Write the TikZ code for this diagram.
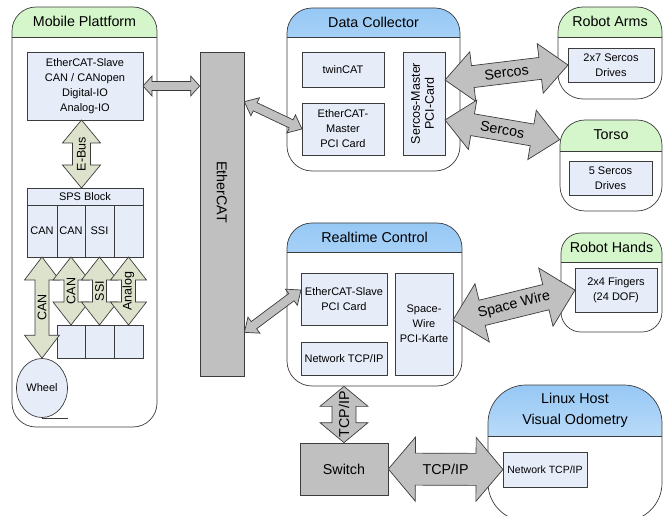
\documentclass[tikz,border=0pt]{standalone}
\usepackage{fontspec}
\setmainfont{Liberation Sans}
\usetikzlibrary{calc,shapes.geometric,positioning}

\definecolor{boxblue}{RGB}{230,236,248}
\definecolor{headgreen}{RGB}{212,246,202}
\definecolor{headblue}{RGB}{150,200,245}
\definecolor{fatgray}{RGB}{192,192,192}
\definecolor{busgreen}{RGB}{221,226,204}
\definecolor{edgegray}{RGB}{60,60,60}

\newcommand{\bigfont}{\fontsize{14.3}{17}\selectfont}
\newcommand{\boxfont}{\fontsize{11}{15}\selectfont}
\newcommand{\busfont}{\fontsize{12.5}{14}\selectfont}

% double block arrow: [style]{from}{to}{shaft half}{head half}{head length}
\newcommand{\fatarrow}[6][fat body]{%
  \coordinate (fatA) at ($(#2)!#6!(#3)$);
  \coordinate (fatB) at ($(#3)!#6!(#2)$);
  \draw[#1] (#2) -- ($(fatA)!#5!90:(#3)$) -- ($(fatA)!#4!90:(#3)$)
    -- ($(fatB)!#4!90:(#3)$) -- ($(fatB)!#5!90:(#3)$) -- (#3)
    -- ($(fatB)!#5!-90:(#3)$) -- ($(fatB)!#4!-90:(#3)$)
    -- ($(fatA)!#4!-90:(#3)$) -- ($(fatA)!#5!-90:(#3)$) -- cycle;}

\begin{document}
\begin{tikzpicture}[x=1pt,y=-1pt,
    zone/.style={draw=edgegray,fill=white,line width=0.7pt,rounded corners=22pt,inner sep=0pt},
    green head/.style={zone,
      path picture={
        \fill[headgreen,sharp corners] (path picture bounding box.north west) rectangle ([yshift=-#1]path picture bounding box.north east);
        \draw[edgegray,line width=0.7pt,sharp corners] ([yshift=-#1]path picture bounding box.north west) -- ([yshift=-#1]path picture bounding box.north east);}},
    green head/.default=30pt,
    blue head/.style={zone,
      path picture={
        \shade[top color=headblue,bottom color=headblue!12,sharp corners] (path picture bounding box.north west) rectangle ([yshift=-#1]path picture bounding box.north east);
        \draw[edgegray,line width=0.7pt,sharp corners] ([yshift=-#1]path picture bounding box.north west) -- ([yshift=-#1]path picture bounding box.north east);}},
    blue head/.default=30pt,
    zone title/.style={font=\bigfont,align=center,inner sep=0pt},
    module box/.style={draw=edgegray,fill=boxblue,line width=0.7pt,inner sep=1pt,outer sep=0pt,align=center,font=\boxfont},
    gray box/.style={draw=edgegray,fill=fatgray,line width=0.7pt},
    fat body/.style={draw=edgegray,fill=fatgray,line width=0.7pt,line join=miter},
    bus body/.style={fat body,fill=busgreen},
    fat label/.style={font=\bigfont,inner sep=0pt},
    bus label/.style={font=\busfont,inner sep=0pt}]

  \useasboundingbox (0,0) rectangle (665,516);

  % Mobile Plattform
  \node[green head, minimum width=145pt, minimum height=420pt, rounded corners=24pt] (mp) at (84.5,217) {};
  \node[zone title] (mptitle) at ([yshift=-15pt]mp.north) {Mobile Plattform};
  \node[module box, minimum width=116pt, minimum height=68pt] (mpslave) at (85,86) {EtherCAT-Slave\\CAN / CANopen\\Digital-IO\\Analog-IO};
  \node[module box, minimum width=116pt, minimum height=17pt, inner sep=0pt] (sps) at (85,196.5) {SPS Block};
  \node[module box, minimum width=30pt, minimum height=52pt] (sps1) at (42,231) {CAN};
  \node[module box, minimum width=28pt, minimum height=52pt, right=0pt of sps1] (sps2) {CAN};
  \node[module box, minimum width=29pt, minimum height=52pt, right=0pt of sps2] (sps3) {SSI};
  \node[module box, minimum width=29pt, minimum height=52pt, right=0pt of sps3] (sps4) {};
  \node[module box, minimum width=28pt, minimum height=33pt] (mod1) at (71,341.5) {};
  \node[module box, minimum width=29pt, minimum height=33pt, right=0pt of mod1] (mod2) {};
  \node[module box, minimum width=29pt, minimum height=33pt, right=0pt of mod2] (mod3) {};
  \node[ellipse, draw=edgegray, fill=boxblue, line width=0.7pt, minimum width=51pt, minimum height=59pt, inner sep=0pt, font=\boxfont] (wheel) at (42,388) {Wheel};
  \draw[edgegray, line width=0.7pt] (wheel.south) -- ++(26,0);

  % EtherCAT bus
  \node[gray box, minimum width=44pt, minimum height=324pt] (ethercat) at (222,214) {};
  \node[fat label, rotate=-90] (ethercatlbl) at ([yshift=22pt]ethercat.center) {EtherCAT};

  % Data Collector
  \node[blue head=29pt, minimum width=173pt, minimum height=163pt, rounded corners=25pt] (dc) at (373.5,89.5) {};
  \node[zone title] (dctitle) at ([yshift=-14.5pt]dc.north) {Data Collector};
  \node[module box, minimum width=82pt, minimum height=35pt] (twincat) at (343,69.5) {twinCAT};
  \node[module box, minimum width=82pt, minimum height=52pt] (emaster) at (343,129) {EtherCAT-\\Master\\PCI Card};
  \node[module box, minimum width=42pt, minimum height=103pt] (smaster) at (424,103.5)
    {\rotatebox{90}{\fontsize{12.5}{14}\selectfont\begin{tabular}{@{}c@{}}Sercos-Master\\PCI-Card\end{tabular}}};

  % Robot Arms / Torso
  \node[green head, minimum width=104pt, minimum height=92pt, rounded corners=25pt] (arms) at (610,53) {};
  \node[zone title] (armstitle) at ([yshift=-15pt]arms.north) {Robot Arms};
  \node[module box, minimum width=86pt, minimum height=34pt] (armdrives) at (611,65) {2x7 Sercos\\Drives};
  \node[green head=31pt, minimum width=102pt, minimum height=91pt, rounded corners=25pt] (torso) at (611,165.5) {};
  \node[zone title] (torsotitle) at ([yshift=-15.5pt]torso.north) {Torso};
  \node[module box, minimum width=83pt, minimum height=34pt] (torsodrives) at (610.5,178) {5 Sercos\\Drives};

  % Realtime Control
  \node[blue head=29pt, minimum width=175pt, minimum height=163pt, rounded corners=25pt] (realtime) at (374.5,304.5) {};
  \node[zone title] (rttitle) at ([yshift=-14.5pt]realtime.north) {Realtime Control};
  \node[module box, minimum width=86pt, minimum height=52pt] (rslave) at (344,299) {EtherCAT-Slave\\PCI Card};
  \node[module box, minimum width=86pt, minimum height=33pt] (nettcp) at (344,358.5) {Network TCP/IP};
  \node[module box, minimum width=58pt, minimum height=102pt] (swire) at (424,324) {Space-\\Wire\\PCI-Karte};

  % Robot Hands
  \node[green head=29pt, minimum width=101pt, minimum height=99pt, rounded corners=20pt] (handzone) at (611.5,282.5) {};
  \node[zone title] (handtitle) at ([yshift=-14.5pt]handzone.north) {Robot Hands};
  \node[module box, minimum width=82pt, minimum height=44pt] (hands) at (616,290) {2x4 Fingers\\(24 DOF)};

  % Switch and Linux host
  \node[gray box, font=\bigfont, minimum width=88pt, minimum height=52pt] (switch) at (344,469) {Switch};
  \node[blue head=51pt, minimum width=174pt, minimum height=136pt, rounded corners=38pt] (linux) at (575,453) {};
  \node[zone title, font=\fontsize{14.3}{20.5}\selectfont] (linuxtitle) at ([yshift=-25.5pt]linux.north) {Linux Host\\Visual Odometry};
  \node[module box, font=\fontsize{10.5}{13}\selectfont, minimum width=84pt, minimum height=35pt] (linuxnet) at (545,469.5) {Network TCP/IP};

  % arrow ends
  \coordinate (barmp) at (ethercat.west |- mpslave.east);
  \coordinate (bardc) at ($(ethercat.north east)+(0,50)$);
  \coordinate (barrt) at ($(ethercat.south east)+(0,-44)$);
  \coordinate (rtslave) at ([yshift=9pt]rslave.west);
  \coordinate (sercosup) at ($(smaster.east)+(0,-23.5)$);
  \coordinate (sercoslow) at ($(smaster.east)+(0,16.5)$);
  \coordinate (torsoin) at ($(torso.north west)+(0,20)$);
  \coordinate (swireout) at ([yshift=4pt]swire.east);
  \coordinate (rtbottom) at (switch.north |- realtime.south);
  \coordinate (ebustop) at ([xshift=-3.5pt]mpslave.south);
  \coordinate (ebusbot) at ([xshift=-3.5pt]sps.north);

  % field buses inside the platform
  \fatarrow[bus body]{ebustop}{ebusbot}{9pt}{19pt}{23pt}
  \node[bus label, rotate=90] (ebuslbl) at ($(ebustop)!0.5!(ebusbot)$) {E-Bus};
  \fatarrow[bus body]{sps1.south}{wheel.north}{7pt}{17.5pt}{23pt}
  \node[bus label, rotate=90] (can1lbl) at ($(sps1.south)!0.5!(wheel.north)$) {CAN};
  \fatarrow[bus body]{sps2.south}{mod1.north}{7pt}{18pt}{23pt}
  \node[bus label, rotate=90] (can2lbl) at ($(sps2.south)!0.5!(mod1.north)$) {CAN};
  \fatarrow[bus body]{sps3.south}{mod2.north}{7pt}{18pt}{23pt}
  \node[bus label, rotate=90] (ssilbl) at ($(sps3.south)!0.5!(mod2.north)$) {SSI};
  \fatarrow[bus body]{sps4.south}{mod3.north}{7pt}{18pt}{23pt}
  \node[bus label, rotate=90] (analoglbl) at ($(sps4.south)!0.5!(mod3.north)$) {Analog};

  % EtherCAT links
  \fatarrow{mpslave.east}{barmp}{4.5pt}{10pt}{9pt}
  \fatarrow{bardc}{emaster.west}{4.5pt}{10pt}{12pt}
  \fatarrow{barrt}{rtslave}{4.5pt}{10pt}{12pt}

  % Sercos, SpaceWire, TCP/IP
  \fatarrow{sercosup}{armdrives.west}{11pt}{25pt}{28pt}
  \path (sercosup) -- (armdrives.west) node[fat label, midway, sloped] (sercoslbl1) {Sercos};
  \fatarrow{sercoslow}{torsoin}{11pt}{25pt}{28pt}
  \path (sercoslow) -- (torsoin) node[fat label, midway, sloped] (sercoslbl2) {Sercos};
  \fatarrow{swireout}{hands.west}{13pt}{30pt}{30pt}
  \path (swireout) -- (hands.west) node[fat label, midway, sloped] (swirelbl) {Space Wire};
  \fatarrow{rtbottom}{switch.north}{12pt}{24pt}{20pt}
  \node[fat label, rotate=90] (tcpvlbl) at ($(rtbottom)!0.5!(switch.north)$) {TCP/IP};
  \fatarrow{switch.east}{linuxnet.west}{16pt}{32pt}{27pt}
  \node[fat label] (tcphlbl) at ($(switch.east)!0.5!(linuxnet.west)$) {TCP/IP};
\end{tikzpicture}
\end{document}
